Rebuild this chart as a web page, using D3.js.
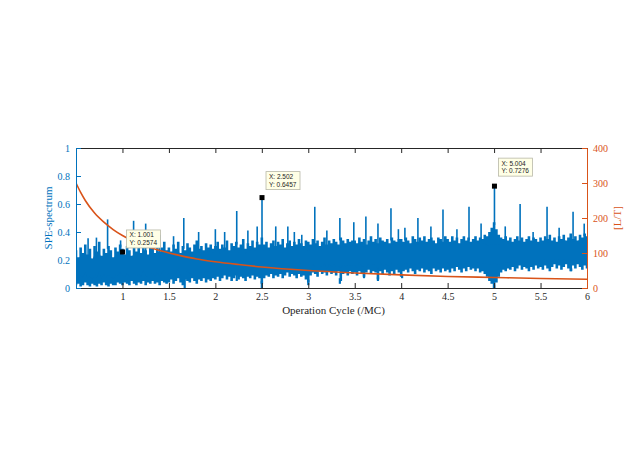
<!DOCTYPE html>
<html><head><meta charset="utf-8">
<script src="https://cdn.jsdelivr.net/npm/d3@7"></script>
<style>body{margin:0;background:#fff}svg{display:block}</style>
</head><body>
<script>
// ---- data ----
const xStart = 0.5, xStep = 0.025;
const bandHi = [
0.27,0.22,0.29,0.25,0.31,0.24,0.28,0.21,0.30,0.26,0.33,0.23,0.28,0.25,0.30,0.27,0.22,0.29,0.26,0.31,
0.28,0.24,0.30,0.27,0.23,0.31,0.26,0.29,0.25,0.32,0.27,0.24,0.30,0.28,0.25,0.31,0.26,0.29,0.33,0.27,
0.29,0.26,0.31,0.28,0.33,0.25,0.30,0.27,0.32,0.29,0.26,0.31,0.34,0.28,0.30,0.27,0.32,0.29,0.31,0.28,
0.30,0.33,0.28,0.31,0.29,0.34,0.27,0.32,0.30,0.33,0.29,0.31,0.35,0.28,0.32,0.30,0.34,0.29,0.33,0.31,
0.36,0.31,0.33,0.29,0.32,0.34,0.30,0.33,0.31,0.35,0.29,0.32,0.34,0.30,0.33,0.31,0.35,0.32,0.30,0.34,
0.33,0.31,0.35,0.32,0.34,0.30,0.33,0.36,0.31,0.34,0.32,0.35,0.33,0.31,0.36,0.34,0.32,0.35,0.33,0.34,
0.34,0.32,0.36,0.33,0.35,0.31,0.34,0.37,0.33,0.35,0.32,0.36,0.34,0.33,0.35,0.32,0.36,0.34,0.33,0.35,
0.35,0.33,0.36,0.34,0.32,0.37,0.35,0.33,0.36,0.34,0.37,0.33,0.35,0.36,0.34,0.32,0.36,0.35,0.33,0.37,
0.35,0.33,0.37,0.34,0.36,0.32,0.35,0.37,0.34,0.36,0.33,0.35,0.37,0.34,0.36,0.35,0.38,0.37,0.40,0.43,
0.47,0.42,0.38,0.36,0.35,0.37,0.34,0.36,0.33,0.35,0.37,0.34,0.36,0.33,0.35,0.37,0.34,0.36,0.35,0.33,
0.36,0.34,0.37,0.35,0.38,0.34,0.36,0.33,0.37,0.35,0.38,0.34,0.36,0.39,0.35,0.37,0.34,0.38,0.36,0.39,
0.37];
const bandLo = [
0.02,0.03,0.01,0.02,0.04,0.02,0.01,0.03,0.02,0.01,0.03,0.02,0.04,0.02,0.01,0.03,0.02,0.02,0.04,0.03,
0.02,0.04,0.03,0.02,0.05,0.03,0.02,0.04,0.03,0.05,0.02,0.04,0.03,0.05,0.03,0.04,0.02,0.05,0.04,0.03,
0.04,0.06,0.03,0.05,0.07,0.04,0.02,0.06,0.05,0.04,0.07,0.05,0.03,0.06,0.05,0.07,0.04,0.06,0.05,0.07,
0.06,0.08,0.05,0.07,0.09,0.06,0.08,0.05,0.07,0.09,0.06,0.08,0.07,0.05,0.08,0.07,0.09,0.06,0.08,0.07,
0.03,0.07,0.09,0.08,0.10,0.07,0.09,0.08,0.10,0.07,0.09,0.11,0.08,0.10,0.09,0.07,0.10,0.08,0.09,0.06,
0.04,0.09,0.11,0.10,0.08,0.12,0.10,0.11,0.09,0.12,0.10,0.11,0.09,0.12,0.05,0.10,0.11,0.09,0.12,0.10,
0.11,0.09,0.12,0.10,0.08,0.11,0.13,0.10,0.12,0.11,0.06,0.12,0.10,0.13,0.11,0.09,0.12,0.10,0.13,0.11,
0.08,0.12,0.13,0.11,0.14,0.12,0.10,0.13,0.12,0.14,0.11,0.13,0.12,0.10,0.14,0.12,0.13,0.11,0.14,0.12,
0.13,0.11,0.14,0.12,0.15,0.13,0.11,0.14,0.12,0.15,0.13,0.14,0.12,0.14,0.11,0.12,0.10,0.08,0.05,0.03,
0.00,0.04,0.08,0.11,0.13,0.12,0.14,0.13,0.15,0.12,0.14,0.16,0.13,0.15,0.14,0.12,0.15,0.13,0.16,0.14,
0.15,0.13,0.16,0.14,0.12,0.15,0.17,0.14,0.16,0.13,0.15,0.17,0.14,0.12,0.16,0.14,0.17,0.15,0.13,0.16,
0.14];
const spikes = [[0.63,0.355],[0.72,0.36],[0.84,0.49],[0.98,0.34],[1.12,0.48],[1.25,0.46],[1.40,0.38],
[1.55,0.37],[1.66,0.50],[1.82,0.40],[2.0,0.42],[2.1,0.40],[2.23,0.55],[2.35,0.41],[2.45,0.44],
[2.502,0.6457],[2.65,0.44],[2.78,0.44],[2.85,0.40],[2.93,0.38],[3.07,0.58],[3.2,0.41],[3.34,0.50],
[3.49,0.47],[3.62,0.51],[3.75,0.46],[3.89,0.57],[3.97,0.42],[4.04,0.43],[4.18,0.50],[4.32,0.44],
[4.45,0.56],[4.6,0.42],[4.73,0.58],[4.86,0.46],[5.004,0.7276],[5.12,0.44],[5.28,0.60],[5.42,0.40],
[5.57,0.58],[5.7,0.43],[5.85,0.545],[5.97,0.46]];
const dips = [[1.67,0.0],[2.23,0.05],[2.5,0.0],[3.0,0.02],[3.34,0.03],[3.6,0.07],[3.75,0.05],[4.01,0.07],[5.0,0.0],[5.83,0.12]];
const ltX = [0.5,0.55,0.6,0.7,0.8,0.9,1,1.2,1.4,1.6,1.8,2,2.25,2.5,3,3.5,4,4.5,5,5.5,6];
const ltY = [300,273,250,214,188,167,150,125,107,94,83,75,67,60,50,43,37.5,33,30,27,25];
const tips = [[1.001,0.2574],[2.502,0.6457],[5.004,0.7276]];
const tipDy = [4,8,10];
const xTicks = [1,1.5,2,2.5,3,3.5,4,4.5,5,5.5,6];
const yLeftTicks = [0,0.2,0.4,0.6,0.8,1];
const yRightTicks = [0,100,200,300,400];

// ---- drawing ----
const W = 640, H = 452;
const L = 76, R = 587, T = 148, B = 288;
const blue = "#0072BD", orange = "#D95319", dark = "#262626";
const svg = d3.select("body").append("svg").attr("width", W).attr("height", H);
const x = d3.scaleLinear().domain([0.5, 6]).range([L, R]);
const yL = d3.scaleLinear().domain([0, 1]).range([B, T]);
const yR = d3.scaleLinear().domain([0, 400]).range([B, T]);

const plot = svg.append("g");
plot.append("clipPath").attr("id","clip").append("rect").attr("x",L).attr("y",T).attr("width",R-L).attr("height",B-T);
const pg = plot.append("g").attr("clip-path","url(#clip)");

// band as dense vertical strokes
const bandPath = d3.path();
bandHi.forEach((h, i) => {
  const xv = xStart + i * xStep;
  bandPath.moveTo(x(xv), yL(bandLo[i]));
  bandPath.lineTo(x(xv), yL(h));
});
pg.append("path").attr("d", bandPath.toString()).attr("stroke", blue).attr("stroke-width", 2.6).attr("fill","none");
// connecting core area to keep it solid
const area = d3.area().x((d,i)=>x(xStart+i*xStep)).y0((d,i)=>yL(Math.max(bandLo[i], 0)+0.0)).y1(d=>yL(d));
const core = bandHi.map((h,i)=> (h + bandLo[i]) / 2);
pg.append("path").datum(bandHi.map((h,i)=>Math.min(h, core[i]+0.08)))
  .attr("d", d3.area().x((d,i)=>x(xStart+i*xStep)).y0((d,i)=>yL(Math.max(bandLo[i], core[i]-0.06))).y1(d=>yL(d)))
  .attr("fill", blue);

// spikes and dips
const bandAt = (xv, arr) => arr[Math.max(0, Math.min(arr.length-1, Math.round((xv - xStart)/xStep)))];
pg.selectAll("line.sp").data(spikes).join("line").attr("class","sp")
  .attr("x1", d=>x(d[0])).attr("x2", d=>x(d[0]))
  .attr("y1", d=>yL(bandAt(d[0], bandHi) - 0.02)).attr("y2", d=>yL(d[1]))
  .attr("stroke", blue).attr("stroke-width", 1.6);
pg.selectAll("line.dp").data(dips).join("line").attr("class","dp")
  .attr("x1", d=>x(d[0])).attr("x2", d=>x(d[0]))
  .attr("y1", d=>yL(bandAt(d[0], bandLo) + 0.02)).attr("y2", d=>yL(d[1]))
  .attr("stroke", blue).attr("stroke-width", 2.2);

// L/T curve
pg.append("path").datum(ltX.map((v,i)=>[v, ltY[i]]))
  .attr("d", d3.line().x(d=>x(d[0])).y(d=>yR(d[1])).curve(d3.curveMonotoneX))
  .attr("fill","none").attr("stroke", orange).attr("stroke-width", 1.6);

// axes (MATLAB style: inward ticks)
const font = "'Liberation Serif','Times New Roman',serif";
const gx = svg.append("g").attr("transform", `translate(0,${B})`)
  .call(d3.axisBottom(x).tickValues(xTicks).tickSize(-5).tickPadding(5).tickFormat(d3.format("~g")));
gx.select(".domain").attr("stroke", dark);
gx.selectAll(".tick line").attr("stroke", dark);
gx.selectAll("text").attr("fill", dark).style("font-family", font).style("font-size", "10px");
const gxt = svg.append("g").attr("transform", `translate(0,${T})`)
  .call(d3.axisTop(x).tickValues(xTicks).tickSize(-5).tickFormat(""));
gxt.select(".domain").attr("stroke", dark);
gxt.selectAll(".tick line").attr("stroke", dark);

const gl = svg.append("g").attr("transform", `translate(${L},0)`)
  .call(d3.axisLeft(yL).tickValues(yLeftTicks).tickSize(-5).tickPadding(6).tickFormat(d3.format("~g")));
gl.selectAll(".domain, .tick line").attr("stroke", blue);
gl.selectAll("text").attr("fill", blue).style("font-family", font).style("font-size", "10px");
gl.selectAll(".tick").filter(d=>d===0 || d===1).select("line").remove();

const gr = svg.append("g").attr("transform", `translate(${R},0)`)
  .call(d3.axisRight(yR).tickValues(yRightTicks).tickSize(-5).tickPadding(6).tickFormat(d3.format("~g")));
gr.selectAll(".domain, .tick line").attr("stroke", orange);
gr.selectAll("text").attr("fill", orange).style("font-family", font).style("font-size", "10px");

// labels
svg.append("text").attr("x", (L+R)/2 + 2).attr("y", 314).attr("text-anchor","middle")
  .style("font-family", font).style("font-size","11px").attr("fill", dark).text("Operation Cycle (/MC)");
svg.append("text").attr("transform", `translate(52,${(T+B)/2}) rotate(-90)`).attr("text-anchor","middle")
  .style("font-family", font).style("font-size","11px").attr("fill", blue).text("SPE-spectrum");
svg.append("text").attr("transform", `translate(621,${(T+B)/2}) rotate(-90)`).attr("text-anchor","middle")
  .style("font-family", font).style("font-size","11px").attr("fill", orange).text("[L/T]");

// data tips
const tg = svg.append("g");
tips.forEach((d, i) => {
  const px = x(d[0]), py = yL(d[1]);
  tg.append("rect").attr("x", px-2.5).attr("y", py-2.5).attr("width",5).attr("height",5).attr("fill","#000");
  const bx = px + 4, by = py - tipDy[i] - 18;
  tg.append("rect").attr("x", bx).attr("y", by).attr("width", 34).attr("height", 18)
    .attr("fill","#FFFFE6").attr("stroke","#b8b8a8").attr("stroke-width",0.8);
  tg.append("text").attr("x", bx+3).attr("y", by+7.5).style("font-family","'Liberation Sans',Arial,sans-serif")
    .style("font-size","6.5px").attr("fill","#222").text("X: " + d[0].toFixed(3));
  tg.append("text").attr("x", bx+3).attr("y", by+15).style("font-family","'Liberation Sans',Arial,sans-serif")
    .style("font-size","6.5px").attr("fill","#222").text("Y: " + d[1].toFixed(4));
});
</script>
</body></html>
